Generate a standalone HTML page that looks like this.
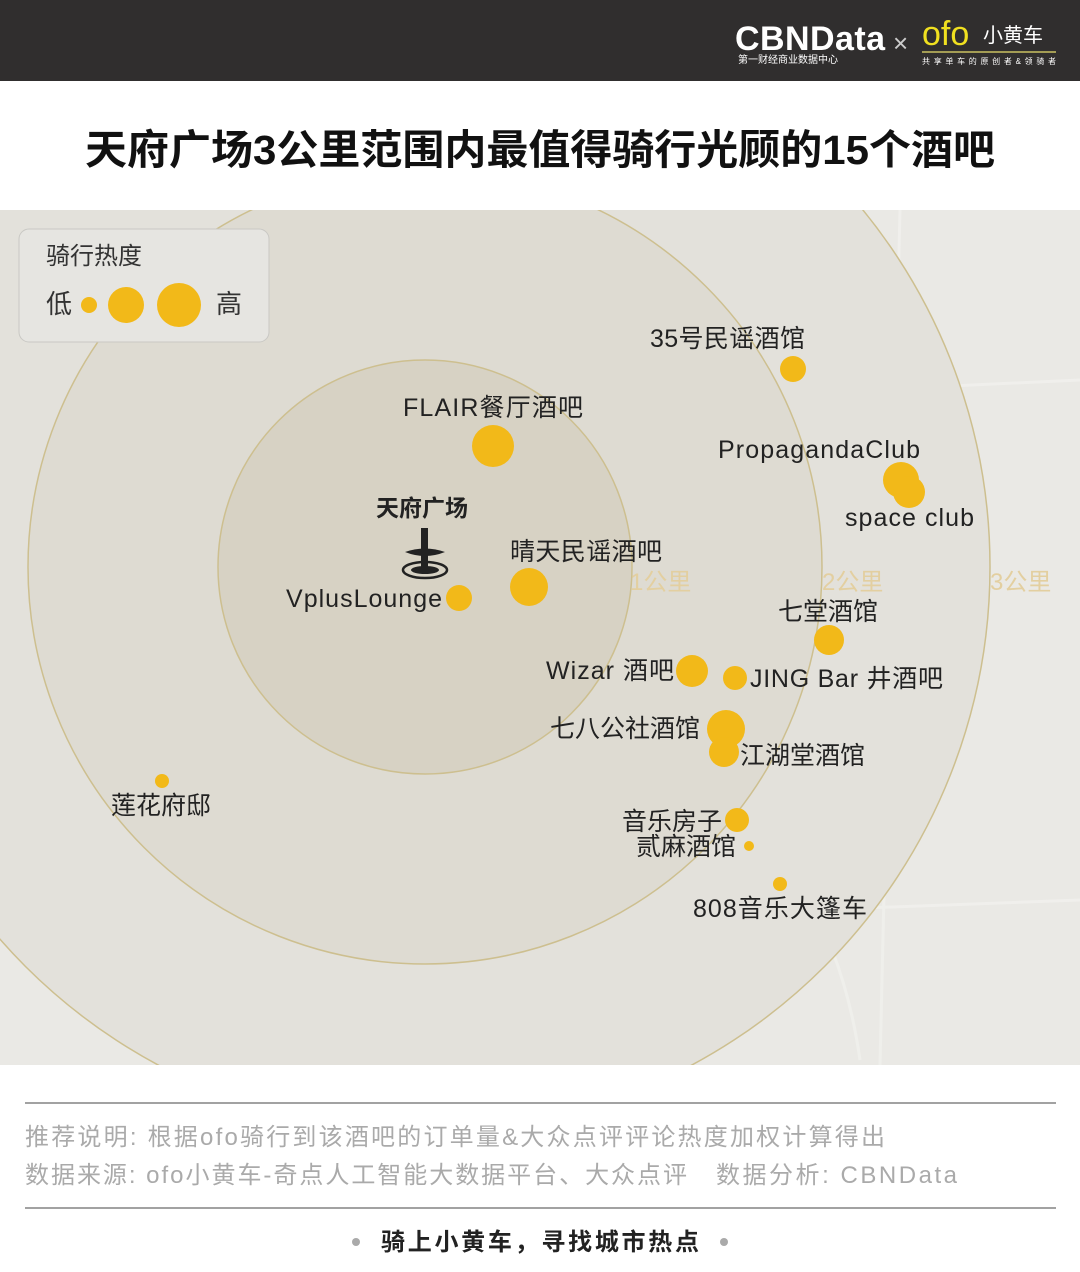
<!DOCTYPE html>
<html><head><meta charset="utf-8"><style>
body{margin:0;width:1080px;height:1272px;background:#fff;overflow:hidden;font-family:"Liberation Sans","Noto Sans CJK SC",sans-serif}
</style></head><body>
<svg width="1080" height="1272" viewBox="0 0 1080 1272" xmlns="http://www.w3.org/2000/svg" style="display:block;font-family:'Liberation Sans','Noto Sans CJK SC',sans-serif">
<rect x="0" y="0" width="1080" height="81" fill="#302e2e"/>
<text x="735" y="50" font-size="34" font-weight="bold" fill="#fff" textLength="150">CBNData</text>
<text x="738" y="63" font-size="10" fill="#fff">第一财经商业数据中心</text>
<text x="893" y="52" font-size="26" fill="#ccc">×</text>
<text x="922" y="45" font-size="34" fill="#f0e020">ofo</text>
<text x="983" y="42" font-size="20" fill="#fff">小黄车</text>
<line x1="922" y1="52" x2="1056" y2="52" stroke="#c9c060" stroke-width="1.5"/>
<text x="922" y="64" font-size="8" fill="#fff" textLength="134">共享单车的原创者&amp;领骑者</text>
<text x="85" y="164" font-size="41" font-weight="bold" fill="#111" textLength="910" lengthAdjust="spacingAndGlyphs">天府广场3公里范围内最值得骑行光顾的15个酒吧</text>
<defs><clipPath id="m"><rect x="0" y="210" width="1080" height="855"/></clipPath></defs>
<g clip-path="url(#m)">
<rect x="0" y="210" width="1080" height="855" fill="#eae9e5"/>
<g stroke="#f3f3f0" stroke-width="3" fill="none" opacity="0.6">
<path d="M0 700 Q200 720 320 760 T560 770 T760 830 T860 1060"/>
<path d="M100 210 L260 1065 M700 210 L640 1065 M0 430 L1080 380 M0 940 L1080 900 M900 210 L880 1065 M420 210 L430 1065"/>
</g>
<circle cx="425" cy="567" r="565" fill="#e3e1db" stroke="#cdbf8f" stroke-width="1.5"/>
<circle cx="425" cy="567" r="397" fill="#dedbd2" stroke="#cdbf8f" stroke-width="1.5"/>
<circle cx="425" cy="567" r="207" fill="#d7d2c4" stroke="#cdbf8f" stroke-width="1.5"/>
</g>
<rect x="19" y="229" width="250" height="113" rx="10" fill="#e6e5e1" stroke="#c9c8c4"/>
<text x="46" y="264" font-size="24" fill="#333">骑行热度</text>
<text x="46" y="313" font-size="26" fill="#333">低</text>
<circle cx="89" cy="305" r="8" fill="#f2b919"/>
<circle cx="126" cy="305" r="18" fill="#f2b919"/>
<circle cx="179" cy="305" r="22" fill="#f2b919"/>
<text x="216" y="313" font-size="26" fill="#333">高</text>
<g font-size="24" fill="#e3cfa0">
<text x="630" y="590">1公里</text><text x="822" y="590">2公里</text><text x="990" y="590">3公里</text></g>
<text x="376" y="516" font-size="23" font-weight="bold" fill="#222">天府广场</text>
<g fill="#222"><ellipse cx="425" cy="570" rx="22" ry="8" fill="none" stroke="#222" stroke-width="2.5"/><ellipse cx="425" cy="570" rx="14" ry="4"/><rect x="421" y="528" width="7" height="42"/><path d="M405 552 Q425 545 445 552 Q425 560 405 552Z"/></g>
<g fill="#f2b919">
<circle cx="793" cy="369" r="13"/><circle cx="493" cy="446" r="21"/><circle cx="901" cy="480" r="18"/><circle cx="909" cy="492" r="16"/>
<circle cx="529" cy="587" r="19"/><circle cx="459" cy="598" r="13"/><circle cx="829" cy="640" r="15"/><circle cx="692" cy="671" r="16"/>
<circle cx="735" cy="678" r="12"/><circle cx="726" cy="729" r="19"/><circle cx="724" cy="752" r="15"/><circle cx="162" cy="781" r="7"/>
<circle cx="737" cy="820" r="12"/><circle cx="749" cy="846" r="5"/><circle cx="780" cy="884" r="7"/></g>
<g font-size="25" fill="#222">
<text x="650" y="347" textLength="155">35号民谣酒馆</text><text x="403" y="416" textLength="180">FLAIR餐厅酒吧</text><text x="718" y="458" textLength="202">PropagandaClub</text>
<text x="845" y="526" textLength="129">space club</text><text x="510" y="560" textLength="152">晴天民谣酒吧</text><text x="286" y="607" textLength="156">VplusLounge</text>
<text x="778" y="620">七堂酒馆</text><text x="546" y="679" textLength="128">Wizar 酒吧</text><text x="750" y="687" textLength="193">JING Bar 井酒吧</text>
<text x="550" y="737">七八公社酒馆</text><text x="740" y="764">江湖堂酒馆</text><text x="111" y="814">莲花府邸</text>
<text x="622" y="830">音乐房子</text><text x="636" y="855">贰麻酒馆</text><text x="693" y="917" textLength="174">808音乐大篷车</text></g>
<line x1="25" y1="1103" x2="1056" y2="1103" stroke="#444"/>
<text x="25" y="1145" font-size="24" fill="#aaa" textLength="860">推荐说明: 根据ofo骑行到该酒吧的订单量&amp;大众点评评论热度加权计算得出</text>
<text x="25" y="1183" font-size="24" fill="#aaa" textLength="662">数据来源: ofo小黄车-奇点人工智能大数据平台、大众点评</text>
<text x="716" y="1183" font-size="24" fill="#aaa" textLength="241">数据分析: CBNData</text>
<line x1="25" y1="1208" x2="1056" y2="1208" stroke="#444"/>
<circle cx="356" cy="1242" r="4" fill="#aaa"/><circle cx="724" cy="1242" r="4" fill="#aaa"/>
<text x="381" y="1250" font-size="24" font-weight="bold" fill="#222" textLength="318">骑上小黄车，寻找城市热点</text>
</svg>
</body></html>
